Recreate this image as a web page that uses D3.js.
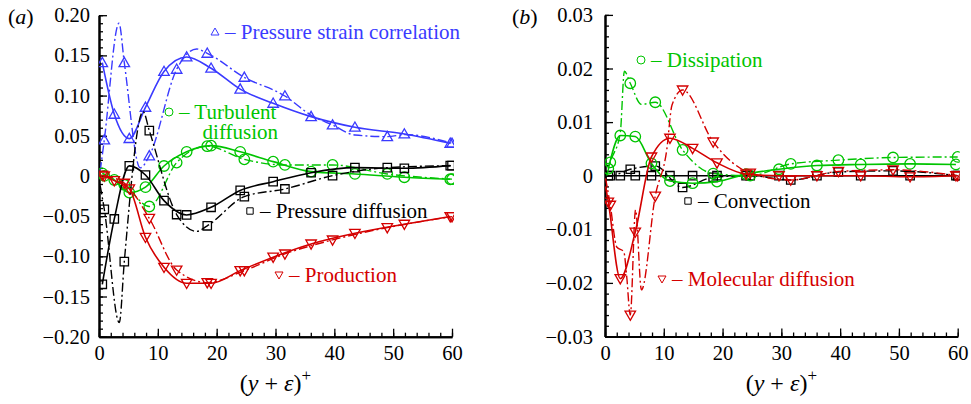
<!DOCTYPE html>
<html>
<head>
<meta charset="utf-8">
<script src="https://cdn.jsdelivr.net/npm/d3@7/dist/d3.min.js"></script>
<style>
  html, body { margin: 0; padding: 0; }
  svg { display: block; }
</style>
</head>
<body>
<svg id="budget" width="971" height="404"></svg>
<script>
// ---------- data ----------
const xTickValues = [0, 10, 20, 30, 40, 50, 60];
const yTickValuesA = [-0.20, -0.15, -0.10, -0.05, 0, 0.05, 0.10, 0.15, 0.20];
const yTickValuesB = [-0.03, -0.02, -0.01, 0, 0.01, 0.02, 0.03];

// wall-normal stations carrying a symbol
const stationsSolid = [0.56, 2.6, 5.15, 7.9, 11.05, 14.9, 19.05, 24, 29.6, 36.05, 43.5, 51.9, 59.7];
const stationsDash = [0.9, 4.3, 8.55, 13.2, 18.4, 24.7, 31.6, 39.7, 49, 60];

// (a) budget terms
const pressureStrainSolid = [[0.56,0.141],[2.6,0.0767],[5.15,0.0465],[7.9,0.0854],[11.05,0.130],[14.9,0.148],[19.05,0.134],[24,0.108],[29.6,0.0904],[36.05,0.0738],[43.5,0.0606],[51.9,0.0522],[59.7,0.0406]];
const pressureStrainDash = [[0.2,0.006],[0.9,0.0448],[3.4,0.190],[4.3,0.141],[7.0,0.010],[8.55,0.025],[13.2,0.1327],[16.6,0.158],[18.4,0.1526],[24.7,0.1227],[31.6,0.0995],[36,0.0758],[39.7,0.0634],[43.5,0.051],[49,0.0489],[52,0.0515],[60,0.0406]];
const turbDiffSolid = [[0.56,0.0033],[2.6,-0.005],[5.15,-0.0207],[7.9,-0.014],[11.05,0.0124],[14.9,0.030],[19.05,0.0377],[24,0.030],[29.6,0.0178],[36.05,0.0054],[43.5,0.0025],[51.9,-0.0016],[59.7,-0.0041]];
const turbDiffDash = [[0.3,0.001],[0.9,0.0],[4.3,-0.011],[8.55,-0.038],[13.2,0.0166],[18.4,0.037],[24.7,0.0207],[31.6,0.0137],[39.7,0.0137],[49,0.0025],[60,-0.004]];
const pressDiffSolid = [[0.56,-0.1348],[2.6,-0.0535],[5.15,0.0125],[7.9,0.0012],[11.05,-0.0307],[14.9,-0.0485],[19.05,-0.039],[24,-0.018],[29.6,-0.0071],[36.05,0.004],[43.5,0.0103],[51.9,0.0095],[59.7,0.0128]];
const pressDiffDash = [[0.2,-0.012],[0.9,-0.0415],[3.45,-0.1825],[4.3,-0.1066],[7.5,0.080],[8.55,0.0564],[13.2,-0.048],[16.6,-0.069],[18.4,-0.062],[24.7,-0.0257],[31.6,-0.0162],[39.7,0.0004],[49,0.0103],[60,0.0128]];
const productionSolid = [[0.56,0.001],[2.6,-0.0058],[5.15,-0.016],[7.9,-0.0763],[11.05,-0.1136],[14.9,-0.1335],[19.05,-0.1335],[24,-0.1178],[29.6,-0.101],[36.05,-0.0846],[43.5,-0.0713],[51.9,-0.060],[59.7,-0.0506]];
const productionDash = [[0.9,0.0],[4.3,-0.009],[8.55,-0.0527],[13.2,-0.117],[18.4,-0.1327],[24.7,-0.1178],[31.6,-0.097],[39.7,-0.0796],[49,-0.0643],[60,-0.0506]];

// (b) budget terms
const dissipationSolid = [[0.56,0.0013],[2.6,0.0075],[5.15,0.0073],[7.9,0.0023],[11.05,-0.001],[14.9,-0.0014],[19.05,-0.0011],[24,0.0003],[29.6,0.0012],[36.05,0.0019],[43.5,0.0021],[51.9,0.0022],[59.7,0.0021]];
const dissipationDash = [[0.3,0.0],[0.9,0.0025],[2.6,0.008],[3.3,0.0195],[4.3,0.01725],[6.2,0.0133],[8.55,0.0137],[13.2,0.0048],[18.4,0.0004],[24.7,0.0],[31.6,0.0022],[39.7,0.0029],[49,0.0034],[60,0.0035]];
const convectionSolid = [[0.3,0],[0.56,0],[2.6,0],[5.15,0],[7.9,0],[11.05,0],[14.9,0],[19.05,0],[24,0],[29.6,0],[36.05,0],[43.5,0],[51.9,0],[59.7,0]];
const convectionDash = [[0.3,0],[0.9,0],[4.3,0.0012],[8.55,0.0018],[13.2,-0.0022],[18.4,-0.0003],[24.7,0],[31.6,-0.0008],[39.7,0.0007],[49,0.0009],[60,0]];
const molDiffSolid = [[0.1,-0.002],[0.56,-0.0049],[2.6,-0.0192],[5.15,-0.0105],[7.9,0.0035],[11.05,0.007],[14.9,0.0051],[19.05,0.0024],[24,0.0003],[29.6,0],[36.05,0],[43.5,0],[51.9,-0.0002],[59.7,0]];
const molDiffDash = [[0.1,-0.0005],[0.9,-0.0055],[2.0,-0.0133],[3.2,-0.0142],[3.7,-0.0189],[4.3,-0.026],[5.2,-0.0064],[6.2,-0.0213],[8.55,-0.0038],[10.5,0.0048],[11.4,0.0132],[13.2,0.016],[18.4,0.0063],[24.7,0.0005],[31.6,-0.0008],[39.7,0.0008],[49,0.0011],[60,0]];

// ---------- drawing ----------
const FONT = '"Liberation Serif"';
const svg = d3.select("#budget").attr("font-family", "Liberation Serif");
const BLUE = "#3a3aff", GREEN = "#00c400", RED = "#d40000", BLACK = "#000";
const DASHDOT = "9,3,2,3";

// every label goes through here so the serif face is set on the element itself
function label(parent) {
  return parent.append("text").attr("font-family", "Liberation Serif").style("font-family", FONT);
}

const panels = [
  { id: "a", x: d3.scaleLinear([0, 60], [99, 452]), y: d3.scaleLinear([-0.2, 0.2], [336.7, 15.2]),
    ticks: yTickValuesA, minor: d3.range(-0.20, 0.2001, 0.01), labelPad: 9,
    series: [
      { solid: pressureStrainSolid, dash: pressureStrainDash, color: BLUE, sym: "triUp" },
      { solid: turbDiffSolid, dash: turbDiffDash, color: GREEN, sym: "circle" },
      { solid: pressDiffSolid, dash: pressDiffDash, color: BLACK, sym: "square" },
      { solid: productionSolid, dash: productionDash, color: RED, sym: "triDown" }
    ] },
  { id: "b", x: d3.scaleLinear([0, 60], [605, 957.7]), y: d3.scaleLinear([-0.03, 0.03], [336.5, 14.9]),
    ticks: yTickValuesB, minor: d3.range(-0.030, 0.03001, 0.002), labelPad: 12,
    series: [
      { solid: convectionSolid, dash: convectionDash, color: BLACK, sym: "square" },
      { solid: dissipationSolid, dash: dissipationDash, color: GREEN, sym: "circle" },
      { solid: molDiffSolid, dash: molDiffDash, color: RED, sym: "triDown" }
    ] }
];

function symbolPath(sym, s) {
  if (sym === "circle") return d3.arc()({ innerRadius: 0, outerRadius: s * 0.5, startAngle: 0, endAngle: 2 * Math.PI });
  const h = s * 0.5;
  if (sym === "square") return `M${-h*0.8},${-h*0.8}H${h*0.8}V${h*0.8}H${-h*0.8}Z`;
  if (sym === "triUp") return `M0,${-h}L${h},${h*0.75}L${-h},${h*0.75}Z`;
  return `M0,${h}L${h},${-h*0.75}L${-h},${-h*0.75}Z`;
}

const fmt = v => (Math.abs(v) < 1e-9 ? "0" : d3.format(".2f")(v).replace("-", "\u2212"));

panels.forEach(p => {
  const g = svg.append("g");
  const [x0, x1] = p.x.range();
  const [yb, yt] = p.y.range();

  const clipId = "clip-" + p.id;
  svg.append("clipPath").attr("id", clipId).append("rect")
    .attr("x", x0).attr("y", yt - 2).attr("width", x1 - x0 + 2).attr("height", yb - yt + 2);

  // axes: major and minor ticks point into the plot
  const xMinor = d3.axisBottom(p.x).tickValues(d3.range(0, 60.001, 2)).tickSize(-4).tickSizeOuter(0).tickFormat("");
  const xMajor = d3.axisBottom(p.x).tickValues(xTickValues).tickSize(-8).tickSizeOuter(0).tickPadding(9).tickFormat(d3.format("d"));
  const yMinor = d3.axisLeft(p.y).tickValues(p.minor).tickSize(-4).tickSizeOuter(0).tickFormat("");
  const yMajor = d3.axisLeft(p.y).tickValues(p.ticks).tickSize(-8).tickSizeOuter(0).tickPadding(p.labelPad).tickFormat(fmt);

  [xMinor, xMajor].forEach(ax => g.append("g").attr("transform", `translate(0,${yb})`).call(ax).attr("font-family", "Liberation Serif"));
  [yMinor, yMajor].forEach(ax => g.append("g").attr("transform", `translate(${x0},0)`).call(ax).attr("font-family", "Liberation Serif"));
  g.selectAll(".domain").attr("stroke", "#000").attr("stroke-width", 2);
  g.selectAll(".tick line").attr("stroke", "#000").attr("stroke-width", 1.3);
  g.selectAll(".tick text").attr("font-family", "Liberation Serif").style("font-family", FONT)
    .attr("font-size", 20.5).attr("fill", "#000");

  const plot = g.append("g").attr("clip-path", `url(#${clipId})`);
  const line = d3.line().x(d => p.x(d[0])).y(d => p.y(d[1])).curve(d3.curveMonotoneX);

  p.series.forEach(s => {
    plot.append("path").datum(s.dash).attr("d", line).attr("fill", "none")
      .attr("stroke", s.color).attr("stroke-width", 1.4).attr("stroke-dasharray", DASHDOT);
    plot.append("path").datum(s.solid).attr("d", line).attr("fill", "none")
      .attr("stroke", s.color).attr("stroke-width", 1.6);
    const marks = s.solid.filter(d => stationsSolid.includes(d[0]))
      .concat(s.dash.filter(d => stationsDash.includes(d[0])));
    plot.selectAll(null).data(marks).join("path")
      .attr("transform", d => `translate(${p.x(d[0])},${p.y(d[1])})`)
      .attr("d", symbolPath(s.sym, 10.5)).attr("fill", "none")
      .attr("stroke", s.color).attr("stroke-width", 1.3);
  });

  // axis title (y + ε)+
  const t = label(g).attr("x", (x0 + x1) / 2).attr("y", 391)
    .attr("text-anchor", "middle").attr("font-size", 24).attr("fill", "#000");
  t.append("tspan").text("(");
  t.append("tspan").attr("font-style", "italic").text("y");
  t.append("tspan").text(" + ");
  t.append("tspan").attr("font-style", "italic").text("\u03b5");
  t.append("tspan").text(")");
  t.append("tspan").attr("font-size", 17).attr("dy", -10).text("+");

  // panel tag
  const tag = label(g).attr("x", p.id === "a" ? 8 : 512).attr("y", 24)
    .attr("font-size", 22).attr("fill", "#000");
  tag.append("tspan").text("(");
  tag.append("tspan").attr("font-style", "italic").text(p.id);
  tag.append("tspan").text(")");
});

// legends: symbol + label placed beside the curves; a second line is right-aligned at `right`
const legends = [
  { sym: "triUp", color: BLUE, x: 215, y: 32, lines: ["\u2013 Pressure strain correlation"] },
  { sym: "circle", color: GREEN, x: 169, y: 112, lines: ["\u2013 Turbulent", "diffusion"], right: 278 },
  { sym: "square", color: BLACK, x: 250, y: 211, lines: ["\u2013 Pressure diffusion"] },
  { sym: "triDown", color: RED, x: 279, y: 275, lines: ["\u2013 Production"] },
  { sym: "circle", color: GREEN, x: 641, y: 60, lines: ["\u2013 Dissipation"] },
  { sym: "square", color: BLACK, x: 688, y: 201, lines: ["\u2013 Convection"] },
  { sym: "triDown", color: RED, x: 662, y: 279, lines: ["\u2013 Molecular diffusion"] }
];
legends.forEach(l => {
  const g = svg.append("g");
  g.append("path").attr("transform", `translate(${l.x},${l.y})`)
    .attr("d", symbolPath(l.sym, 8)).attr("fill", "none").attr("stroke", l.color).attr("stroke-width", 1);
  label(g).attr("x", l.x + 10).attr("y", l.y + 7)
    .attr("font-size", 21).attr("fill", l.color).text(l.lines[0]);
  if (l.lines.length > 1) {
    label(g).attr("x", l.right).attr("y", l.y + 27).attr("text-anchor", "end")
      .attr("font-size", 21).attr("fill", l.color).text(l.lines[1]);
  }
});
</script>
</body>
</html>
